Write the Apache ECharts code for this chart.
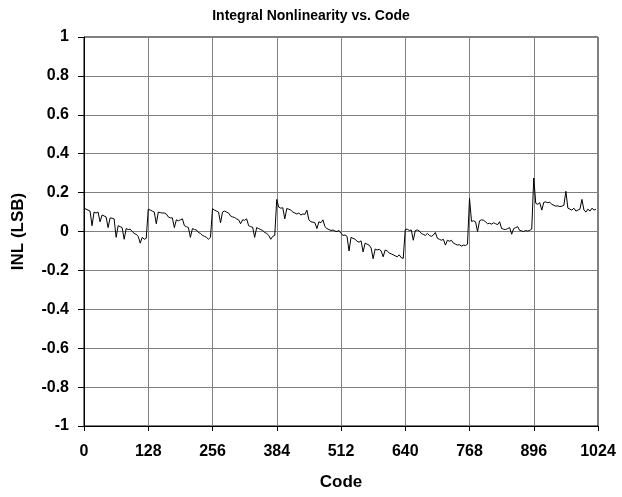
<!DOCTYPE html>
<html>
<head>
<meta charset="utf-8">
<script src="https://cdn.jsdelivr.net/npm/echarts@6/dist/echarts.min.js"></script>
<style>html,body{margin:0;padding:0;background:#fff;}#c{width:622px;height:497px;}</style>
</head>
<body>
<div id="c"></div>
<script>
// INL values sampled every 4 codes, one array per 128-code segment
const codeStep = 4;
const seg0 = [0.12,0.115,0.11,0.105,0.03,0.10,0.095,0.10,0.05,0.085,0.08,0.075,0.02,0.07,0.068,0.065,-0.03,0.03,0.025,0.02,-0.04,0.015,0.01,0.012,0.0,-0.01,-0.015,-0.025,-0.06,-0.03,-0.04,-0.035];
const seg1 = [0.115,0.11,0.105,0.1,0.04,0.1,0.097,0.095,0.095,0.09,0.075,0.07,0.07,0.02,0.06,0.055,0.06,0.065,0.03,0.025,0.02,-0.03,0.015,0.01,0.008,-0.005,-0.01,-0.02,-0.025,-0.03,-0.04,-0.03];
const seg2 = [0.117,0.11,0.105,0.1,0.045,0.1,0.105,0.1,0.095,0.08,0.075,0.072,0.065,0.06,0.04,0.06,0.058,0.065,0.03,0.025,0.022,-0.03,0.02,0.015,0.01,0.005,-0.005,-0.01,-0.02,-0.04,-0.025,-0.02];
const seg3 = [0.165,0.125,0.12,0.122,0.065,0.118,0.115,0.11,0.1,0.095,0.09,0.095,0.085,0.09,0.088,0.11,0.06,0.05,0.048,0.045,0.015,0.05,0.045,0.06,0.025,0.015,0.01,0.005,0.008,0.002,0.0,0.005];
const seg4 = [-0.01,-0.02,-0.018,-0.025,-0.1,-0.03,-0.035,-0.04,-0.05,-0.055,-0.048,-0.105,-0.06,-0.065,-0.07,-0.085,-0.14,-0.09,-0.095,-0.092,-0.1,-0.13,-0.095,-0.1,-0.11,-0.115,-0.12,-0.125,-0.13,-0.12,-0.135,-0.138];
const seg5 = [0.01,0.012,0.005,0.008,-0.045,0.005,0.008,0.003,-0.01,-0.015,-0.02,-0.01,-0.02,-0.025,-0.018,-0.005,-0.035,-0.04,-0.045,-0.04,-0.07,-0.045,-0.05,-0.045,-0.06,-0.065,-0.07,-0.068,-0.075,-0.07,-0.072,-0.065];
const seg6 = [0.17,0.052,0.055,0.05,0.0,0.055,0.06,0.058,0.05,0.04,0.042,0.038,0.045,0.04,0.035,0.05,0.015,0.012,0.01,0.015,0.02,-0.014,0.015,0.02,0.025,0.005,0.003,0.0,0.005,0.002,0.006,0.012];
const seg7 = [0.275,0.145,0.14,0.148,0.11,0.15,0.152,0.148,0.15,0.14,0.135,0.13,0.132,0.128,0.13,0.135,0.207,0.12,0.115,0.11,0.12,0.105,0.11,0.115,0.165,0.11,0.1,0.115,0.105,0.12,0.11,0.115];
const segments = [seg0,seg1,seg2,seg3,seg4,seg5,seg6,seg7];
const xTicks = [0,128,256,384,512,640,768,896,1024];
const yTicks = [-1,-0.8,-0.6,-0.4,-0.2,0,0.2,0.4,0.6,0.8,1];

const data = [];
segments.forEach((seg, s) => {
  seg.forEach((v, i) => data.push([s * 128 + i * codeStep, v]));
});

const font = 'Liberation Sans, Arial, sans-serif';
const chart = echarts.init(document.getElementById('c'), null, {renderer: 'canvas'});
chart.setOption({
  animation: false,
  backgroundColor: '#fff',
  title: {
    text: 'Integral Nonlinearity vs. Code',
    left: 'center', top: 4,
    textStyle: {fontFamily: font, fontSize: 14, fontWeight: 'bold', color: '#000'}
  },
  grid: {left: 84, right: 24, top: 37, bottom: 71, show: true, borderColor: '#000', borderWidth: 1, backgroundColor: 'transparent'},
  xAxis: {
    type: 'value', min: xTicks[0], max: xTicks[xTicks.length - 1], interval: 128,
    name: 'Code', nameLocation: 'middle', nameGap: 48,
    nameTextStyle: {fontFamily: font, fontSize: 17, fontWeight: 'bold', color: '#000'},
    axisLine: {onZero: false, lineStyle: {color: '#000', width: 1}},
    axisTick: {show: true, inside: false, length: 5, lineStyle: {color: '#000'}},
    axisLabel: {margin: 18, fontFamily: font, fontSize: 16, fontWeight: 'bold', color: '#000',
      formatter: v => String(v)},
    splitLine: {show: true, lineStyle: {color: '#808080', width: 1}}
  },
  yAxis: {
    type: 'value', min: yTicks[0], max: yTicks[yTicks.length - 1], interval: 0.2,
    name: 'INL (LSB)', nameLocation: 'middle', nameGap: 57, nameRotate: 90,
    nameTextStyle: {fontFamily: font, fontSize: 17, fontWeight: 'bold', color: '#000'},
    axisLine: {show: true, lineStyle: {color: '#000', width: 1}},
    axisTick: {show: true, inside: false, length: 6, lineStyle: {color: '#000'}},
    axisLabel: {margin: 15, fontFamily: font, fontSize: 16, fontWeight: 'bold', color: '#000',
      formatter: v => String(+v.toFixed(1))},
    splitLine: {show: true, lineStyle: {color: '#808080', width: 1}}
  },
  series: [{
    type: 'line', data: data, showSymbol: false, symbol: 'none',
    lineStyle: {color: '#000', width: 1}, z: 5
  }]
});
</script>
</body>
</html>
